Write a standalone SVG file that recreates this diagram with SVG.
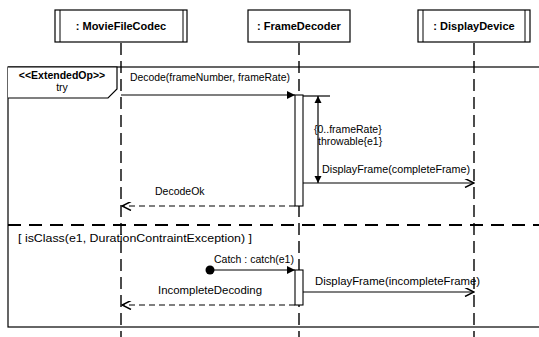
<svg xmlns="http://www.w3.org/2000/svg" width="539" height="337" viewBox="0 0 539 337">
  <style>
    .box { fill: #fff; stroke: #000; stroke-width: 1.2; }
    .inner { stroke: #000; stroke-width: 1; }
    .head { font-family: "Liberation Sans", Arial, sans-serif; font-size: 11px; font-weight: bold; text-anchor: middle; }
    .lbl { font-family: "Liberation Sans", Arial, sans-serif; font-size: 10.5px; }
    .life { stroke: #000; stroke-width: 1.4; stroke-dasharray: 12 6; fill: none; }
    .frame { fill: none; stroke: #000; stroke-width: 1.2; }
    .sep { stroke: #000; stroke-width: 1.8; stroke-dasharray: 13 8; }
    .msg { stroke: #000; stroke-width: 1.2; fill: none; }
    .ret { stroke: #000; stroke-width: 1.2; fill: none; stroke-dasharray: 6 4; }
    .act { fill: #fff; stroke: #000; stroke-width: 1.1; }
  </style>
  <defs>
    <marker id="filled" viewBox="0 0 10 10" refX="10" refY="5" markerWidth="10" markerHeight="8" markerUnits="userSpaceOnUse" orient="auto">
      <path d="M0,0 L10,5 L0,10 z" fill="#000"/>
    </marker>
    <marker id="open" viewBox="0 0 10 10" refX="10" refY="5" markerWidth="11" markerHeight="9" markerUnits="userSpaceOnUse" orient="auto">
      <path d="M0,0 L10,5 L0,10" fill="none" stroke="#000" stroke-width="1.6"/>
    </marker>
    <marker id="tip" viewBox="0 0 10 10" refX="10" refY="5" markerWidth="7" markerHeight="8" markerUnits="userSpaceOnUse" orient="auto">
      <path d="M0,0 L10,5 L0,10 z" fill="#000"/>
    </marker>
  </defs>

  <!-- lifelines -->
  <g id="lifelines">
    <line class="life" x1="121" y1="43" x2="121" y2="337"/>
    <line class="life" x1="299" y1="43" x2="299" y2="337"/>
    <line class="life" x1="474" y1="43" x2="474" y2="337"/>
  </g>

  <!-- combined fragment -->
  <g id="fragment">
    <rect class="frame" x="8" y="67" width="540" height="260"/>
    <path d="M8,67 L117,67 L117,89 L108,98 L8,98" fill="#fff" stroke="#000" stroke-width="1.2"/>
    <text class="lbl" x="62" y="79" text-anchor="middle" font-weight="bold">&lt;&lt;ExtendedOp&gt;&gt;</text>
    <text class="lbl" x="62" y="91" text-anchor="middle">try</text>
    <line class="sep" x1="8" y1="225" x2="539" y2="225"/>
    <text class="lbl" x="18" y="242" textLength="234" lengthAdjust="spacingAndGlyphs">[ isClass(e1, DurationContraintException) ]</text>
  </g>

  <!-- lifeline heads -->
  <g id="movieFileCodec">
    <rect class="box" x="55" y="10" width="132" height="32"/>
    <line class="inner" x1="60" y1="10" x2="60" y2="42"/>
    <line class="inner" x1="183" y1="10" x2="183" y2="42"/>
    <text class="head" x="121" y="30">: MovieFileCodec</text>
  </g>
  <g id="frameDecoder">
    <rect class="box" x="248" y="10" width="102" height="32"/>
    <text class="head" x="299" y="30">: FrameDecoder</text>
  </g>
  <g id="displayDevice">
    <rect class="box" x="418" y="10" width="112" height="32"/>
    <line class="inner" x1="423" y1="10" x2="423" y2="42"/>
    <line class="inner" x1="525" y1="10" x2="525" y2="42"/>
    <text class="head" x="474" y="30">: DisplayDevice</text>
  </g>

  <!-- activations -->
  <g id="activations">
    <rect class="act" x="295" y="95" width="8" height="111"/>
    <rect class="act" x="295" y="270" width="8" height="35"/>
  </g>

  <!-- messages -->
  <g id="connectors">
    <line class="msg" x1="121" y1="95" x2="295" y2="95" marker-end="url(#filled)"/>
    <text class="lbl" x="130" y="81" textLength="160" lengthAdjust="spacingAndGlyphs">Decode(frameNumber, frameRate)</text>

    <!-- duration constraint -->
    <line class="msg" x1="303" y1="96" x2="330" y2="96"/>
    <line class="msg" x1="318" y1="140" x2="318" y2="96" marker-end="url(#tip)"/>
    <line class="msg" x1="318" y1="140" x2="318" y2="183" marker-end="url(#tip)"/>
    <text class="lbl" x="314" y="133">{0..frameRate}</text>
    <text class="lbl" x="318" y="145">throwable{e1}</text>

    <line class="msg" x1="303" y1="183" x2="474" y2="183" marker-end="url(#open)"/>
    <text class="lbl" x="322" y="173" textLength="148" lengthAdjust="spacingAndGlyphs">DisplayFrame(completeFrame)</text>

    <line class="ret" x1="295" y1="206" x2="122" y2="206" marker-end="url(#open)"/>
    <text class="lbl" x="155" y="195">DecodeOk</text>

    <!-- found message -->
    <circle cx="210" cy="270" r="4.5" fill="#000"/>
    <line class="msg" x1="210" y1="270" x2="295" y2="270" stroke-width="0.8" marker-end="url(#filled)"/>
    <text class="lbl" x="214" y="263">Catch : catch(e1)</text>

    <line class="msg" x1="303" y1="292" x2="474" y2="292" marker-end="url(#open)"/>
    <text class="lbl" x="315" y="285" textLength="165" lengthAdjust="spacingAndGlyphs">DisplayFrame(incompleteFrame)</text>

    <line class="ret" x1="295" y1="305" x2="122" y2="305" marker-end="url(#open)"/>
    <text class="lbl" x="158" y="294" textLength="104" lengthAdjust="spacingAndGlyphs">IncompleteDecoding</text>
  </g>
</svg>
